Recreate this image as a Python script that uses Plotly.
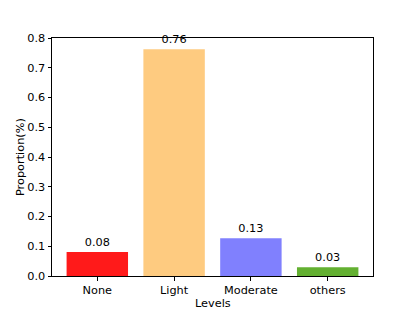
import plotly.graph_objects as go

categories = ["None", "Light", "Moderate", "others"]
values = [0.081, 0.762, 0.127, 0.029]
labels = ["0.08", "0.76", "0.13", "0.03"]
colors = ["#ff1a1a", "#fecb80", "#8080fe", "#63b031"]
x_title = "Levels"
y_title = "Proportion(%)"

FS = 11.3

fig = go.Figure()
fig.add_trace(go.Bar(
    x=list(range(len(categories))), y=values,
    width=0.8,
    marker=dict(color=colors, line=dict(width=0)),
    text=labels, textposition="outside", cliponaxis=False,
    textfont=dict(family="DejaVu Sans", size=FS, color="black"),
    hoverinfo="skip",
))
fig.update_layout(
    width=415, height=311,
    margin=dict(l=52, r=42, t=38, b=35),
    paper_bgcolor="white", plot_bgcolor="white",
    font=dict(family="DejaVu Sans", size=FS, color="black"),
    showlegend=False,
    uniformtext=dict(minsize=1),
)
fig.update_xaxes(
    range=[-0.59, 3.59], automargin=False,
    tickmode="array", tickvals=list(range(len(categories))), ticktext=categories,
    showline=True, linecolor="black", linewidth=1, mirror=True,
    ticks="outside", ticklen=3.5, tickcolor="black",
    showgrid=False, zeroline=False,
)
fig.update_yaxes(
    range=[0, 0.8], dtick=0.1, tickformat=".1f", automargin=False,
    showline=True, linecolor="black", linewidth=1, mirror=True,
    ticks="outside", ticklen=3.5, tickcolor="black",
    showgrid=False, zeroline=False,
)
# axis titles as annotations for exact placement
fig.add_annotation(
    text=x_title, xref="paper", yref="paper", x=0.5, y=0,
    xanchor="center", yanchor="middle", yshift=-27, showarrow=False,
    font=dict(family="DejaVu Sans", size=FS, color="black"),
)
fig.add_annotation(
    text=y_title, xref="paper", yref="paper", x=0, y=0.5,
    xanchor="center", yanchor="middle", xshift=-32, textangle=-90, showarrow=False,
    font=dict(family="DejaVu Sans", size=FS, color="black"),
)
fig.write_html(
    "out.html",
    config={"displayModeBar": False, "staticPlot": True},
    post_script="document.body.style.margin='0';document.body.style.overflow='hidden';",
)
